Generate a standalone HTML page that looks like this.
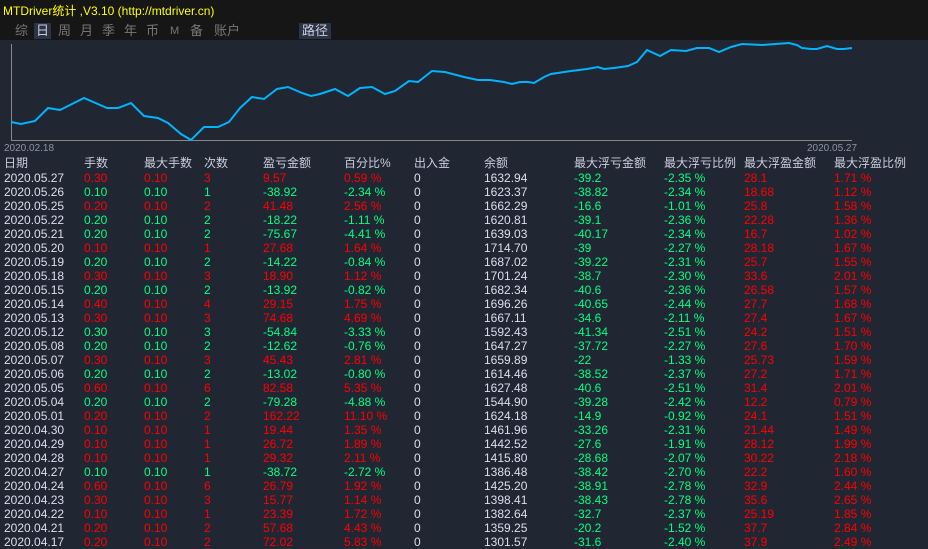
<!DOCTYPE html><html><head><meta charset="utf-8"><style>
body{margin:0;width:928px;height:540px;overflow:hidden;background:#202733;font-family:"Liberation Sans","Noto Sans CJK SC",sans-serif;position:relative}
#top{position:absolute;left:0;top:0;width:928px;height:40px;background:#161616}
.t{position:absolute;font-size:12px;color:#ffff00;left:3px;top:2px}
.tab{position:absolute;top:23px;font-size:13px;color:#777;line-height:16px}
.sel{background:#2a3444;color:#ccd;padding:0 2px}
.r{position:absolute;left:0;width:928px;height:14px;font-size:12px;line-height:14px;color:#dde}
.r span{position:absolute;top:0}
.h{font-size:12px;color:#ccd}
.a{left:4px}.b{left:84px}.c{left:144px}.d{left:204px}.e{left:263px}.f{left:344px}.g{left:414px}.i{left:484px}.j{left:574px}.k{left:664px}.l{left:744px}.m{left:834px}
.R{color:#ff0000}.G{color:#00ff80}
</style></head><body>
<div id="top"><div class="t">MTDriver统计 ,V3.10 (http://mtdriver.cn)</div>
<span class="tab" style="left:15px">综</span><span class="tab sel" style="left:34px">日</span><span class="tab" style="left:58px">周</span><span class="tab" style="left:80px">月</span><span class="tab" style="left:102px">季</span><span class="tab" style="left:124px">年</span><span class="tab" style="left:146px">币</span><span class="tab" style="left:170px;font-size:11px">M</span><span class="tab" style="left:190px">备</span><span class="tab" style="left:214px">账户</span><span class="tab sel" style="left:299px;padding:0 3px">路径</span>
</div>
<svg style="position:absolute;left:0;top:0" width="928" height="160">
<line x1="11.5" y1="44" x2="11.5" y2="140" stroke="#888" stroke-width="1"/>
<line x1="11" y1="140.5" x2="852" y2="140.5" stroke="#888" stroke-width="1"/>
<polyline fill="none" stroke="#00b4ff" stroke-width="2" points="11,122 21,124 35,121 48,108 60,110 84,98 107,108 118,108 131,103 144,116 158,118 168,123 181,134 191,140 204,127 218,127 229,122 240,108 252,97 264,99 277,89 288,87 302,93 311,96 320,94 335,89 348,96 360,88 372,87 385,94 395,91 409,81 418,82 432,71 445,72 464,77 478,80 490,80 504,82 512,84 520,82 528,82 534,83 544,77 551,74 571,71 587,69 598,67 604,69 614,68 628,66 637,62 647,50 660,56 671,50 686,51 697,48 709,48 719,52 731,47 742,44 762,45 789,43 797,45 802,48 811,49 817,49 827,46 837,49 844,49 852,48"/>
<text x="4" y="151" font-size="10" fill="#8a94a4" font-family="Liberation Sans">2020.02.18</text>
<text x="807" y="151" font-size="10" fill="#8a94a4" font-family="Liberation Sans">2020.05.27</text>
</svg>
<div class="r h" style="top:156px"><span class="a">日期</span><span class="b">手数</span><span class="c">最大手数</span><span class="d">次数</span><span class="e">盈亏金额</span><span class="f">百分比%</span><span class="g">出入金</span><span class="i">余额</span><span class="j">最大浮亏金额</span><span class="k">最大浮亏比例</span><span class="l">最大浮盈金额</span><span class="m">最大浮盈比例</span></div>
<div class="r" style="top:171px"><span class="a">2020.05.27</span><span class="b R">0.30</span><span class="c R">0.10</span><span class="d R">3</span><span class="e R">9.57</span><span class="f R">0.59 %</span><span class="g">0</span><span class="i">1632.94</span><span class="j G">-39.2</span><span class="k G">-2.35 %</span><span class="l R">28.1</span><span class="m R">1.71 %</span></div>
<div class="r" style="top:185px"><span class="a">2020.05.26</span><span class="b G">0.10</span><span class="c G">0.10</span><span class="d G">1</span><span class="e G">-38.92</span><span class="f G">-2.34 %</span><span class="g">0</span><span class="i">1623.37</span><span class="j G">-38.82</span><span class="k G">-2.34 %</span><span class="l R">18.68</span><span class="m R">1.12 %</span></div>
<div class="r" style="top:199px"><span class="a">2020.05.25</span><span class="b R">0.20</span><span class="c R">0.10</span><span class="d R">2</span><span class="e R">41.48</span><span class="f R">2.56 %</span><span class="g">0</span><span class="i">1662.29</span><span class="j G">-16.6</span><span class="k G">-1.01 %</span><span class="l R">25.8</span><span class="m R">1.58 %</span></div>
<div class="r" style="top:213px"><span class="a">2020.05.22</span><span class="b G">0.20</span><span class="c G">0.10</span><span class="d G">2</span><span class="e G">-18.22</span><span class="f G">-1.11 %</span><span class="g">0</span><span class="i">1620.81</span><span class="j G">-39.1</span><span class="k G">-2.36 %</span><span class="l R">22.28</span><span class="m R">1.36 %</span></div>
<div class="r" style="top:227px"><span class="a">2020.05.21</span><span class="b G">0.20</span><span class="c G">0.10</span><span class="d G">2</span><span class="e G">-75.67</span><span class="f G">-4.41 %</span><span class="g">0</span><span class="i">1639.03</span><span class="j G">-40.17</span><span class="k G">-2.34 %</span><span class="l R">16.7</span><span class="m R">1.02 %</span></div>
<div class="r" style="top:241px"><span class="a">2020.05.20</span><span class="b R">0.10</span><span class="c R">0.10</span><span class="d R">1</span><span class="e R">27.68</span><span class="f R">1.64 %</span><span class="g">0</span><span class="i">1714.70</span><span class="j G">-39</span><span class="k G">-2.27 %</span><span class="l R">28.18</span><span class="m R">1.67 %</span></div>
<div class="r" style="top:255px"><span class="a">2020.05.19</span><span class="b G">0.20</span><span class="c G">0.10</span><span class="d G">2</span><span class="e G">-14.22</span><span class="f G">-0.84 %</span><span class="g">0</span><span class="i">1687.02</span><span class="j G">-39.22</span><span class="k G">-2.31 %</span><span class="l R">25.7</span><span class="m R">1.55 %</span></div>
<div class="r" style="top:269px"><span class="a">2020.05.18</span><span class="b R">0.30</span><span class="c R">0.10</span><span class="d R">3</span><span class="e R">18.90</span><span class="f R">1.12 %</span><span class="g">0</span><span class="i">1701.24</span><span class="j G">-38.7</span><span class="k G">-2.30 %</span><span class="l R">33.6</span><span class="m R">2.01 %</span></div>
<div class="r" style="top:283px"><span class="a">2020.05.15</span><span class="b G">0.20</span><span class="c G">0.10</span><span class="d G">2</span><span class="e G">-13.92</span><span class="f G">-0.82 %</span><span class="g">0</span><span class="i">1682.34</span><span class="j G">-40.6</span><span class="k G">-2.36 %</span><span class="l R">26.58</span><span class="m R">1.57 %</span></div>
<div class="r" style="top:297px"><span class="a">2020.05.14</span><span class="b R">0.40</span><span class="c R">0.10</span><span class="d R">4</span><span class="e R">29.15</span><span class="f R">1.75 %</span><span class="g">0</span><span class="i">1696.26</span><span class="j G">-40.65</span><span class="k G">-2.44 %</span><span class="l R">27.7</span><span class="m R">1.68 %</span></div>
<div class="r" style="top:311px"><span class="a">2020.05.13</span><span class="b R">0.30</span><span class="c R">0.10</span><span class="d R">3</span><span class="e R">74.68</span><span class="f R">4.69 %</span><span class="g">0</span><span class="i">1667.11</span><span class="j G">-34.6</span><span class="k G">-2.11 %</span><span class="l R">27.4</span><span class="m R">1.67 %</span></div>
<div class="r" style="top:325px"><span class="a">2020.05.12</span><span class="b G">0.30</span><span class="c G">0.10</span><span class="d G">3</span><span class="e G">-54.84</span><span class="f G">-3.33 %</span><span class="g">0</span><span class="i">1592.43</span><span class="j G">-41.34</span><span class="k G">-2.51 %</span><span class="l R">24.2</span><span class="m R">1.51 %</span></div>
<div class="r" style="top:339px"><span class="a">2020.05.08</span><span class="b G">0.20</span><span class="c G">0.10</span><span class="d G">2</span><span class="e G">-12.62</span><span class="f G">-0.76 %</span><span class="g">0</span><span class="i">1647.27</span><span class="j G">-37.72</span><span class="k G">-2.27 %</span><span class="l R">27.6</span><span class="m R">1.70 %</span></div>
<div class="r" style="top:353px"><span class="a">2020.05.07</span><span class="b R">0.30</span><span class="c R">0.10</span><span class="d R">3</span><span class="e R">45.43</span><span class="f R">2.81 %</span><span class="g">0</span><span class="i">1659.89</span><span class="j G">-22</span><span class="k G">-1.33 %</span><span class="l R">25.73</span><span class="m R">1.59 %</span></div>
<div class="r" style="top:367px"><span class="a">2020.05.06</span><span class="b G">0.20</span><span class="c G">0.10</span><span class="d G">2</span><span class="e G">-13.02</span><span class="f G">-0.80 %</span><span class="g">0</span><span class="i">1614.46</span><span class="j G">-38.52</span><span class="k G">-2.37 %</span><span class="l R">27.2</span><span class="m R">1.71 %</span></div>
<div class="r" style="top:381px"><span class="a">2020.05.05</span><span class="b R">0.60</span><span class="c R">0.10</span><span class="d R">6</span><span class="e R">82.58</span><span class="f R">5.35 %</span><span class="g">0</span><span class="i">1627.48</span><span class="j G">-40.6</span><span class="k G">-2.51 %</span><span class="l R">31.4</span><span class="m R">2.01 %</span></div>
<div class="r" style="top:395px"><span class="a">2020.05.04</span><span class="b G">0.20</span><span class="c G">0.10</span><span class="d G">2</span><span class="e G">-79.28</span><span class="f G">-4.88 %</span><span class="g">0</span><span class="i">1544.90</span><span class="j G">-39.28</span><span class="k G">-2.42 %</span><span class="l R">12.2</span><span class="m R">0.79 %</span></div>
<div class="r" style="top:409px"><span class="a">2020.05.01</span><span class="b R">0.20</span><span class="c R">0.10</span><span class="d R">2</span><span class="e R">162.22</span><span class="f R">11.10 %</span><span class="g">0</span><span class="i">1624.18</span><span class="j G">-14.9</span><span class="k G">-0.92 %</span><span class="l R">24.1</span><span class="m R">1.51 %</span></div>
<div class="r" style="top:423px"><span class="a">2020.04.30</span><span class="b R">0.10</span><span class="c R">0.10</span><span class="d R">1</span><span class="e R">19.44</span><span class="f R">1.35 %</span><span class="g">0</span><span class="i">1461.96</span><span class="j G">-33.26</span><span class="k G">-2.31 %</span><span class="l R">21.44</span><span class="m R">1.49 %</span></div>
<div class="r" style="top:437px"><span class="a">2020.04.29</span><span class="b R">0.10</span><span class="c R">0.10</span><span class="d R">1</span><span class="e R">26.72</span><span class="f R">1.89 %</span><span class="g">0</span><span class="i">1442.52</span><span class="j G">-27.6</span><span class="k G">-1.91 %</span><span class="l R">28.12</span><span class="m R">1.99 %</span></div>
<div class="r" style="top:451px"><span class="a">2020.04.28</span><span class="b R">0.10</span><span class="c R">0.10</span><span class="d R">1</span><span class="e R">29.32</span><span class="f R">2.11 %</span><span class="g">0</span><span class="i">1415.80</span><span class="j G">-28.68</span><span class="k G">-2.07 %</span><span class="l R">30.22</span><span class="m R">2.18 %</span></div>
<div class="r" style="top:465px"><span class="a">2020.04.27</span><span class="b G">0.10</span><span class="c G">0.10</span><span class="d G">1</span><span class="e G">-38.72</span><span class="f G">-2.72 %</span><span class="g">0</span><span class="i">1386.48</span><span class="j G">-38.42</span><span class="k G">-2.70 %</span><span class="l R">22.2</span><span class="m R">1.60 %</span></div>
<div class="r" style="top:479px"><span class="a">2020.04.24</span><span class="b R">0.60</span><span class="c R">0.10</span><span class="d R">6</span><span class="e R">26.79</span><span class="f R">1.92 %</span><span class="g">0</span><span class="i">1425.20</span><span class="j G">-38.91</span><span class="k G">-2.78 %</span><span class="l R">32.9</span><span class="m R">2.44 %</span></div>
<div class="r" style="top:493px"><span class="a">2020.04.23</span><span class="b R">0.30</span><span class="c R">0.10</span><span class="d R">3</span><span class="e R">15.77</span><span class="f R">1.14 %</span><span class="g">0</span><span class="i">1398.41</span><span class="j G">-38.43</span><span class="k G">-2.78 %</span><span class="l R">35.6</span><span class="m R">2.65 %</span></div>
<div class="r" style="top:507px"><span class="a">2020.04.22</span><span class="b R">0.10</span><span class="c R">0.10</span><span class="d R">1</span><span class="e R">23.39</span><span class="f R">1.72 %</span><span class="g">0</span><span class="i">1382.64</span><span class="j G">-32.7</span><span class="k G">-2.37 %</span><span class="l R">25.19</span><span class="m R">1.85 %</span></div>
<div class="r" style="top:521px"><span class="a">2020.04.21</span><span class="b R">0.20</span><span class="c R">0.10</span><span class="d R">2</span><span class="e R">57.68</span><span class="f R">4.43 %</span><span class="g">0</span><span class="i">1359.25</span><span class="j G">-20.2</span><span class="k G">-1.52 %</span><span class="l R">37.7</span><span class="m R">2.84 %</span></div>
<div class="r" style="top:535px"><span class="a">2020.04.17</span><span class="b R">0.20</span><span class="c R">0.10</span><span class="d R">2</span><span class="e R">72.02</span><span class="f R">5.83 %</span><span class="g">0</span><span class="i">1301.57</span><span class="j G">-31.6</span><span class="k G">-2.40 %</span><span class="l R">37.9</span><span class="m R">2.49 %</span></div>
</body></html>
